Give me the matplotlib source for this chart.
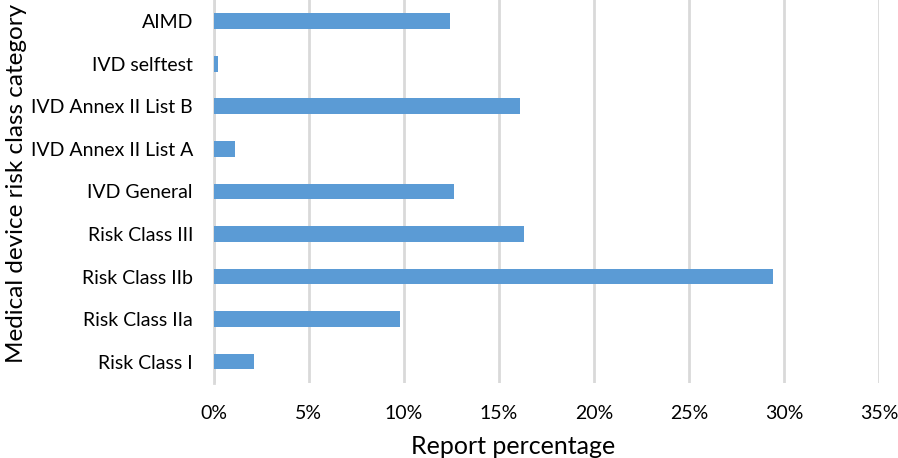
import matplotlib.pyplot as plt
from matplotlib.ticker import PercentFormatter

# Share of reports per medical device risk class (percent)
categories = ['Risk Class I', 'Risk Class IIa', 'Risk Class IIb', 'Risk Class III',
              'IVD General', 'IVD Annex II List A', 'IVD Annex II List B',
              'IVD selftest', 'AIMD']
percentages = [2.1, 9.8, 29.4, 16.3, 12.65, 1.1, 16.1, 0.2, 12.45]
x_ticks = [0, 5, 10, 15, 20, 25, 30, 35]

plt.rcParams['font.family'] = ['Lato', 'DejaVu Sans']

fig = plt.figure(figsize=(8.98, 4.58), dpi=100)
ax = fig.add_axes([0.238, 0.164, 0.741, 0.836])

ax.barh(categories, percentages, height=0.37, color='#5B9BD5', zorder=3)

ax.set_xlim(0, 35)
ax.set_ylim(-0.5, len(categories) - 0.5)
ax.set_xticks(x_ticks)
ax.xaxis.set_major_formatter(PercentFormatter(decimals=0))
ax.grid(axis='x', color='#d9d9d9', linewidth=2, zorder=0)

for side in ['top', 'right', 'bottom']:
    ax.spines[side].set_visible(False)
ax.spines['left'].set_color('#d9d9d9')
ax.spines['left'].set_linewidth(2)

ax.tick_params(axis='both', length=0, labelsize=14, colors='black')
ax.tick_params(axis='x', pad=16)
ax.tick_params(axis='y', pad=15)

ax.set_xlabel('Report percentage', fontsize=18)
ax.set_ylabel('Medical device risk class category', fontsize=17.5)
ax.xaxis.set_label_coords(0.45, -0.137)
ax.yaxis.set_label_coords(-0.281, 0.52)

fig.savefig('out.png', dpi=100)
